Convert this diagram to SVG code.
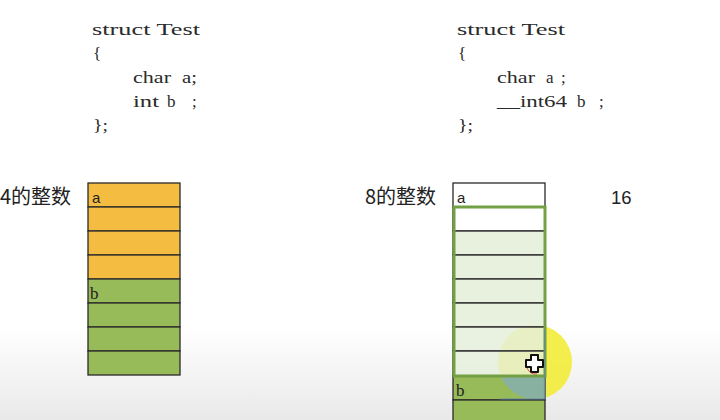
<svg xmlns="http://www.w3.org/2000/svg" width="720" height="420" viewBox="0 0 720 420">
<defs>
<style>
.code{font-family:"Liberation Serif",serif;font-size:17px;fill:#2a2a2a}
.cjk{font-family:"Noto Sans CJK SC","Noto Sans",sans-serif;font-size:20px;fill:#222}
.lbl{font-family:"Liberation Sans",sans-serif;font-size:15px;fill:#222}
.lblb{font-family:"Liberation Serif",serif;font-size:17px;fill:#222}
.cell{stroke:#2a2a2a;stroke-width:1.3}
.org{fill:#f4bd42}
.grn{fill:#98bb5a}
.lgt{fill:#e5efda}
.wht{fill:#ffffff}
</style>
<linearGradient id="bg" x1="0" y1="0" x2="0" y2="1">
<stop offset="0" stop-color="#ffffff"/>
<stop offset="0.78" stop-color="#ffffff"/>
<stop offset="1" stop-color="#e9e9e9"/>
</linearGradient>
<clipPath id="hl"><circle cx="535" cy="362" r="37"/></clipPath>
</defs>
<rect width="720" height="420" fill="url(#bg)"/>

<g id="code-left">
<text class="code" x="92" y="35" textLength="108" lengthAdjust="spacingAndGlyphs">struct Test</text>
<text class="code" x="93" y="59">{</text>
<text class="code" x="133" y="83" textLength="38" lengthAdjust="spacingAndGlyphs">char</text>
<text class="code" x="182" y="83" textLength="15" lengthAdjust="spacingAndGlyphs">a;</text>
<text class="code" x="133" y="107" textLength="26" lengthAdjust="spacingAndGlyphs">int</text>
<text class="code" x="167" y="107">b</text>
<text class="code" x="192" y="107">;</text>
<text class="code" x="93" y="131" textLength="15" lengthAdjust="spacingAndGlyphs">};</text>
</g>

<g id="code-right">
<text class="code" x="457" y="35" textLength="108" lengthAdjust="spacingAndGlyphs">struct Test</text>
<text class="code" x="458" y="59">{</text>
<text class="code" x="497" y="83" textLength="38" lengthAdjust="spacingAndGlyphs">char</text>
<text class="code" x="546" y="83">a</text>
<text class="code" x="561" y="83">;</text>
<text class="code" x="497" y="107" textLength="70" lengthAdjust="spacingAndGlyphs">__int64</text>
<text class="code" x="577" y="107">b</text>
<text class="code" x="599" y="107">;</text>
<text class="code" x="458" y="131" textLength="15" lengthAdjust="spacingAndGlyphs">};</text>
</g>

<g id="label-left"><text class="cjk" x="0" y="204">4的整数</text></g>
<g id="label-right"><text class="cjk" x="365" y="204">8的整数</text></g>
<g id="label-16"><text class="lbl" x="611" y="204" style="font-size:18.5px">16</text></g>

<g id="mem-left">
<rect class="cell org" x="88" y="183" width="92" height="24"/>
<rect class="cell org" x="88" y="207" width="92" height="24"/>
<rect class="cell org" x="88" y="231" width="92" height="24"/>
<rect class="cell org" x="88" y="255" width="92" height="24"/>
<rect class="cell grn" x="88" y="279" width="92" height="24"/>
<rect class="cell grn" x="88" y="303" width="92" height="24"/>
<rect class="cell grn" x="88" y="327" width="92" height="24"/>
<rect class="cell grn" x="88" y="351" width="92" height="24"/>
<text class="lbl" x="92" y="203">a</text>
<text class="lblb" x="90" y="299">b</text>
</g>

<circle cx="535" cy="362" r="37" fill="#f3ec38" opacity="0.9"/>

<g id="mem-right">
<rect class="cell wht" x="453" y="183" width="92" height="24"/>
<text class="lbl" x="457" y="203">a</text>
<rect class="cell wht" x="453" y="207" width="92" height="24"/>
<rect class="cell lgt" x="453" y="231" width="92" height="24" fill-opacity="0.9"/>
<rect class="cell lgt" x="453" y="255" width="92" height="24" fill-opacity="0.9"/>
<rect class="cell lgt" x="453" y="279" width="92" height="24" fill-opacity="0.9"/>
<rect class="cell lgt" x="453" y="303" width="92" height="24" fill-opacity="0.9"/>
<rect class="cell lgt" x="453" y="327" width="92" height="24" fill-opacity="0.85"/>
<rect class="cell lgt" x="453" y="351" width="92" height="25" fill-opacity="0.8"/>
<rect class="cell grn" x="453" y="376" width="92" height="24"/>
<rect class="cell grn" x="453" y="400" width="92" height="24"/>
<rect x="500" y="376" width="45" height="24" fill="#86b0a8" clip-path="url(#hl)" opacity="0.9"/>
<text class="lblb" x="456" y="396">b</text>
<rect x="454" y="207" width="91" height="169" fill="none" stroke="#72a043" stroke-width="3"/>
<path d="M544.5 330 V399 H500" fill="none" stroke="#5c86b8" stroke-width="1.2" opacity="0.8"/>
</g>

<g id="cursor">
<path d="M531 355 h7 v5 h5 v7 h-5 v5 h-7 v-5 h-5 v-7 h5 z" fill="#ffffff" stroke="#111" stroke-width="2" stroke-linejoin="round"/>
<path d="M527 368 a10 10 0 0 0 10 6" fill="none" stroke="#d02020" stroke-width="1" opacity="0.7"/>
</g>
</svg>
